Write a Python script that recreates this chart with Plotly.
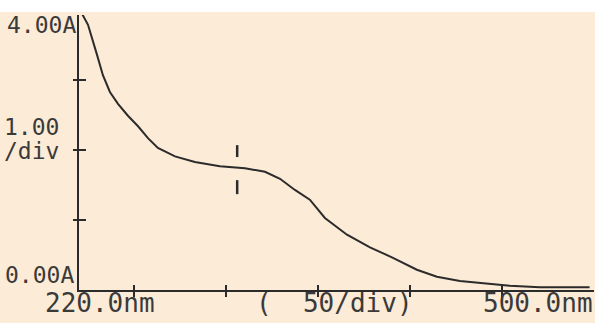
import plotly.graph_objects as go

# Absorbance spectrum
wavelength_nm = [221.6, 224.9, 229.8, 233.0, 236.8, 241.2, 246.6, 252.1, 257.5, 262.9,
                 272.2, 283.0, 296.6, 310.2, 321.1, 329.3, 337.4, 345.5, 353.7, 365.7,
                 378.2, 390.7, 403.7, 414.6, 427.1, 441.7, 454.2, 470.5, 486.8, 497.6]
absorbance = [3.95, 3.79, 3.36, 3.07, 2.83, 2.66, 2.49, 2.34, 2.17, 2.03,
              1.91, 1.83, 1.77, 1.74, 1.69, 1.59, 1.43, 1.29, 1.03, 0.79,
              0.61, 0.46, 0.29, 0.19, 0.13, 0.09, 0.06, 0.04, 0.04, 0.04]

x_ticks = [250, 300, 350, 400, 450]
y_ticks = [1, 2, 3]
cursor_nm = 306
cursor_upper = [2.07, 1.90]
cursor_lower = [1.57, 1.37]

bg = "#FCEBD6"
ink = "#2b2b2b"
txt = "#3a3a3a"
font = "DejaVu Sans Mono"

fig = go.Figure()
fig.add_trace(go.Scatter(x=wavelength_nm, y=absorbance, mode="lines",
                         line=dict(color=ink, width=2), showlegend=False,
                         hoverinfo="skip"))
fig.add_trace(go.Scatter(x=[cursor_nm, cursor_nm], y=cursor_upper, mode="lines",
                         line=dict(color=ink, width=2.5), showlegend=False))
fig.add_trace(go.Scatter(x=[cursor_nm, cursor_nm], y=cursor_lower, mode="lines",
                         line=dict(color=ink, width=2.5), showlegend=False))
# invisible trace to carry the overlay axes (inner half of crossing ticks)
fig.add_trace(go.Scatter(x=[220], y=[0], xaxis="x2", yaxis="y2", mode="markers",
                         marker=dict(opacity=0), showlegend=False))

W, H = 595, 323
L, R, T, B = 79, 1, 15, 33
fig.update_layout(
    width=W, height=H,
    margin=dict(l=L, r=R, t=T, b=B),
    paper_bgcolor=bg, plot_bgcolor=bg,
    xaxis=dict(range=[220, 500], showgrid=False, zeroline=False,
               showline=True, linecolor=ink, linewidth=2,
               ticks="outside", ticklen=5, tickwidth=2, tickcolor=ink,
               tickvals=x_ticks, showticklabels=False),
    yaxis=dict(range=[0, 3.93], showgrid=False, zeroline=False,
               showline=True, linecolor=ink, linewidth=2,
               ticks="outside", ticklen=4, tickwidth=2, tickcolor=ink,
               tickvals=y_ticks, showticklabels=False),
    xaxis2=dict(overlaying="x", matches="x", showgrid=False, zeroline=False,
                ticks="inside", ticklen=5, tickwidth=2, tickcolor=ink,
                tickvals=x_ticks, showticklabels=False, showline=False,
                side="bottom", anchor="y2"),
    yaxis2=dict(overlaying="y", matches="y", showgrid=False, zeroline=False,
                ticks="inside", ticklen=7, tickwidth=2, tickcolor=ink,
                tickvals=y_ticks, showticklabels=False, showline=False,
                anchor="x2"),
)

pw = W - L - R
ph = H - T - B


def px(xp):
    return (xp - L) / pw


def py(yp):
    return (H - B - yp) / ph


def label(text, xp, yp, anchor, size):
    fig.add_annotation(text=text, x=px(xp), y=py(yp), xref="paper", yref="paper",
                       xanchor=anchor, yanchor="middle", showarrow=False,
                       font=dict(family=font, size=size, color=txt))


label("4.00A", 78, 25, "right", 23)
label("1.00", 61, 127, "right", 23)
label("/div", 61, 151, "right", 23)
label("0.00A", 76, 275, "right", 23)
label("220.0nm", 100, 303, "center", 26)
label("(  50/div)", 334, 303, "center", 26)
label("500.0nm", 538, 303, "center", 26)

# white strip at the top of the scan
fig.add_shape(type="rect", xref="paper", yref="paper",
              x0=px(-5), x1=px(W + 5), y0=py(12), y1=py(-5),
              fillcolor="white", line=dict(width=0), layer="above")

fig.write_html("out.html")
